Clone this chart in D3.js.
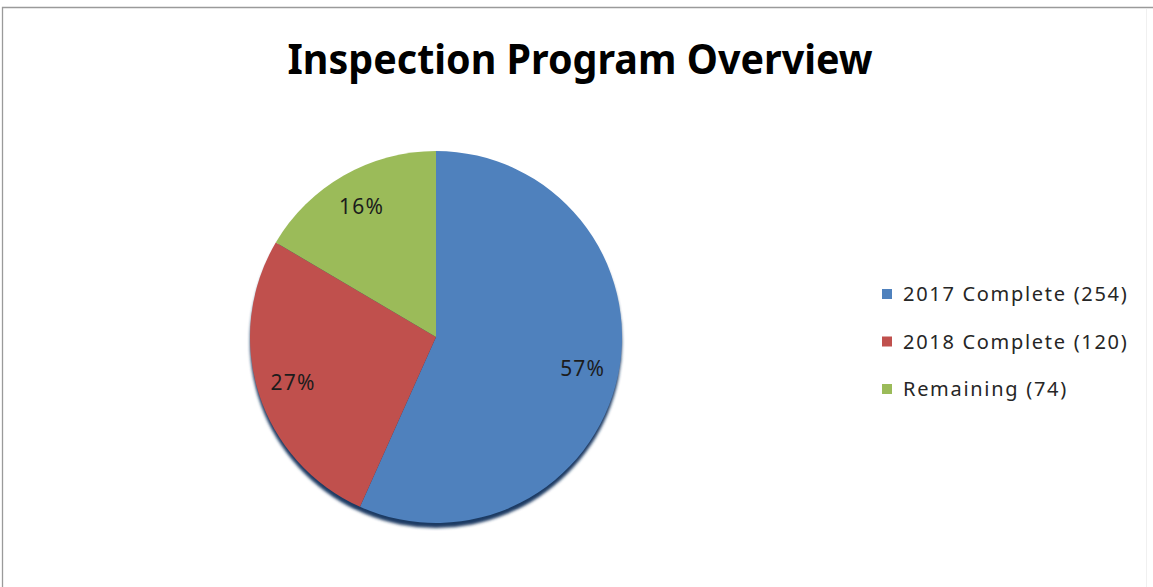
<!DOCTYPE html>
<html>
<head>
<meta charset="utf-8">
<script src="https://cdn.jsdelivr.net/npm/d3@7"></script>
<style>
  html, body { margin: 0; padding: 0; background: #fff; }
  svg { display: block; }
</style>
</head>
<body>
<div id="chart"></div>
<script>
// data
const categories = ["2017 Complete", "2018 Complete", "Remaining"];
const values = [254, 120, 74];
const percentLabels = ["57%", "27%", "16%"];
const colors = ["#4f81bd", "#c0504d", "#9bbb59"];
const title = "Inspection Program Overview";

const width = 1153, height = 587;
const cx = 436, cy = 337, radius = 186;

const svg = d3.select("#chart").append("svg")
  .attr("width", width)
  .attr("height", height);

// outer frame: gray top/left, right edge barely visible
svg.append("path")
  .attr("d", "M2.5,600 V7.5 H1153")
  .attr("fill", "none")
  .attr("stroke", "#9a9a9a")
  .attr("stroke-width", 1.3);
svg.append("line")
  .attr("x1", 1146.5).attr("x2", 1146.5)
  .attr("y1", 9).attr("y2", 600)
  .attr("stroke", "#f0f0f0");

svg.append("text")
  .attr("x", 580)
  .attr("y", 74)
  .attr("text-anchor", "middle")
  .attr("font-family", "'Noto Sans', sans-serif")
  .attr("font-weight", "bold")
  .attr("font-size", 41)
  .attr("textLength", 585)
  .attr("lengthAdjust", "spacingAndGlyphs")
  .attr("fill", "#000")
  .text(title);

const defs = svg.append("defs");
defs.append("filter").attr("id", "blur")
  .append("feGaussianBlur").attr("stdDeviation", 1.8);

const g = svg.append("g").attr("transform", `translate(${cx},${cy})`);

// soft shadow under the pie
g.append("circle")
  .attr("cx", 0)
  .attr("cy", 5)
  .attr("r", radius)
  .attr("fill", "#1f3b63")
  .attr("filter", "url(#blur)");

const pie = d3.pie().sort(null).value(d => d);
const arcs = pie(values);
const arc = d3.arc().innerRadius(0).outerRadius(radius);
const labelArc = d3.arc().innerRadius(150).outerRadius(150);

g.selectAll("path.slice")
  .data(arcs)
  .join("path")
  .attr("class", "slice")
  .attr("d", arc)
  .attr("fill", (d, i) => colors[i]);

g.selectAll("text.pct")
  .data(arcs)
  .join("text")
  .attr("class", "pct")
  .attr("transform", d => `translate(${labelArc.centroid(d)})`)
  .attr("text-anchor", "middle")
  .attr("dy", "0.35em")
  .attr("font-family", "'Noto Sans', sans-serif")
  .attr("font-size", 21)
  .attr("letter-spacing", 1.2)
  .attr("fill", "#1c1c1c")
  .text((d, i) => percentLabels[i]);

// legend
const legend = svg.append("g").attr("transform", "translate(882,294)");
const rows = legend.selectAll("g")
  .data(categories)
  .join("g")
  .attr("transform", (d, i) => `translate(0,${i * 47.5})`);

rows.append("rect")
  .attr("x", 0)
  .attr("y", -5)
  .attr("width", 10)
  .attr("height", 10)
  .attr("fill", (d, i) => colors[i]);

rows.append("text")
  .attr("x", 21)
  .attr("y", 0)
  .attr("dy", "0.35em")
  .attr("font-family", "'Noto Sans', sans-serif")
  .attr("font-size", 20)
  .attr("letter-spacing", 1.7)
  .attr("fill", "#262626")
  .text((d, i) => `${d} (${values[i]})`);
</script>
</body>
</html>
